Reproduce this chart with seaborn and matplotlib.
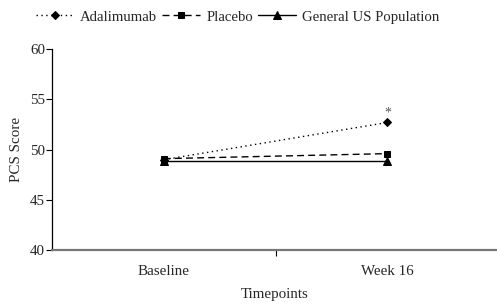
import numpy as np
import pandas as pd
import seaborn as sns
import matplotlib
matplotlib.use("Agg")
import matplotlib.pyplot as plt

# data
timepoints = ["Baseline", "Week 16"]
adalimumab = [49.0, 52.7]
placebo = [49.1, 49.6]
us_population = [48.9, 48.9]

sns.set_theme(style="white")
plt.rcParams["font.family"] = ["Liberation Serif", "DejaVu Serif"]
fs = 10.8

fig = plt.figure(figsize=(4.97, 3.05), dpi=100)
ax = fig.add_axes([0.1046, 0.18, 0.8954, 0.659])

xpos = np.arange(len(timepoints))

# one call per series
sns.lineplot(x=xpos, y=adalimumab, ax=ax, color="black", linestyle=(0, (1, 2.5)), lw=1,
             marker="D", markersize=4.5, markeredgecolor="black", label="Adalimumab")
sns.lineplot(x=xpos, y=placebo, ax=ax, color="black", linestyle=(0, (5, 3)), lw=1,
             marker="s", markersize=5, markeredgecolor="black", label="Placebo")
sns.lineplot(x=xpos, y=us_population, ax=ax, color="black", linestyle="-", lw=1,
             marker="^", markersize=5.5, markeredgecolor="black", label="General US Population")

# significance mark above the adalimumab week 16 point
ax.text(xpos[1], adalimumab[1] + 0.3, "*", ha="center", va="bottom", fontsize=10, color="#555555")

ax.set_xlim(-0.5, 1.49)
ax.set_ylim(40, 60)
ax.set_yticks([40, 45, 50, 55, 60])
ax.set_xticks([0.5])
ax.set_xticklabels([""])
for i, lab in enumerate(timepoints):
    ax.text(xpos[i], -0.104, lab, transform=ax.get_xaxis_transform(), ha="center", va="center", fontsize=fs)

ax.tick_params(axis="y", direction="out", length=4, width=0.8, color="black", labelsize=fs, pad=1, left=True)
ax.tick_params(axis="x", direction="out", length=4, width=0.8, color="black", bottom=True)
ax.set_xlabel("Timepoints", fontsize=fs)
ax.xaxis.set_label_coords(0.5, -0.19)
ax.set_ylabel("PCS Score", fontsize=fs, labelpad=5)

for side in ["top", "right"]:
    ax.spines[side].set_visible(False)
ax.spines["left"].set_color("black")
ax.spines["bottom"].set_color("#777777")
ax.spines["left"].set_linewidth(0.9)
ax.spines["bottom"].set_linewidth(1.6)

ax.legend(loc="center", bbox_to_anchor=(0.478, 1 - 17 / 305), bbox_transform=fig.transFigure,
          ncol=3, frameon=False, fontsize=10.6, handlelength=2.6, handletextpad=0.4,
          columnspacing=0.35, borderaxespad=0)

fig.savefig("out.png", dpi=100)
